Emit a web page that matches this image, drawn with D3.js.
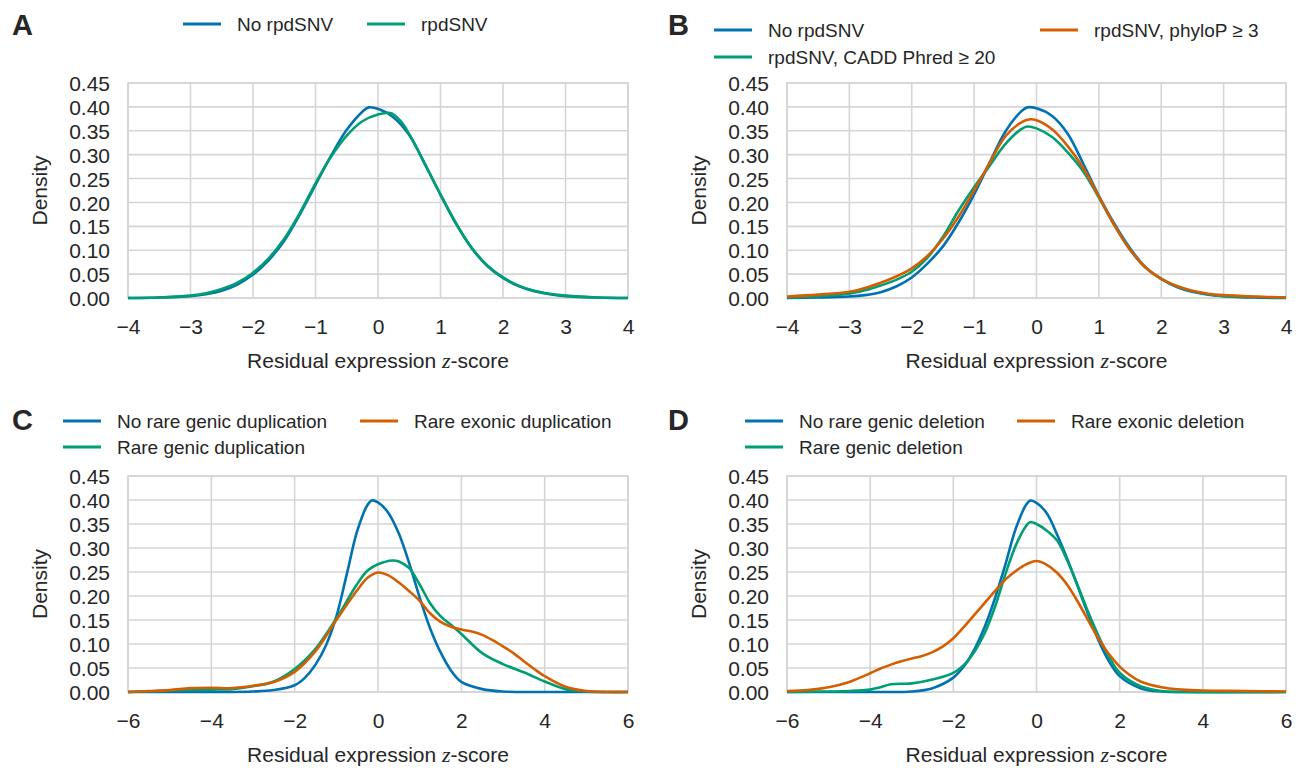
<!DOCTYPE html>
<html>
<head>
<meta charset="utf-8">
<title>Residual expression density</title>
<style>
body {
    margin: 0;
    background-color: #fff;
}
svg text {
    font-family: "Liberation Sans", Arial, sans-serif;
    fill: #262626;
}
</style>
</head>
<body>
<div id="graphic"></div>
<script src="https://cdnjs.cloudflare.com/ajax/libs/d3/7.8.5/d3.min.js"></script>
<script>

// ---- data: [z, density] ----
var xTicksAB = [-4, -3, -2, -1, 0, 1, 2, 3, 4];
var xTicksCD = [-6, -4, -2, 0, 2, 4, 6];
var yTicks = [0, 0.05, 0.10, 0.15, 0.20, 0.25, 0.30, 0.35, 0.40, 0.45];

var labelsA = ["No rpdSNV", "rpdSNV"];
var labelsB = ["No rpdSNV", "rpdSNV, CADD Phred \u2265 20", "rpdSNV, phyloP \u2265 3"];
var labelsC = ["No rare genic duplication", "Rare genic duplication", "Rare exonic duplication"];
var labelsD = ["No rare genic deletion", "Rare genic deletion", "Rare exonic deletion"];

var aNoRpd = [[-4,0],[-3.5,0.001],[-3,0.004],[-2.75,0.008],[-2.5,0.015],[-2.25,0.028],[-2,0.049],[-1.75,0.079],[-1.5,0.120],[-1.25,0.175],[-1,0.237],[-0.75,0.298],[-0.5,0.352],[-0.25,0.390],[-0.15,0.399],[0,0.396],[0.25,0.378],[0.5,0.341],[0.75,0.280],[1,0.216],[1.25,0.155],[1.5,0.104],[1.75,0.067],[2,0.042],[2.25,0.025],[2.5,0.014],[2.75,0.008],[3,0.004],[3.5,0.001],[4,0]];
var aRpd = [[-4,0],[-3.5,0.001],[-3,0.005],[-2.75,0.010],[-2.5,0.019],[-2.25,0.032],[-2,0.053],[-1.75,0.083],[-1.5,0.124],[-1.25,0.178],[-1,0.240],[-0.75,0.296],[-0.5,0.340],[-0.25,0.370],[0,0.384],[0.2,0.387],[0.35,0.372],[0.5,0.343],[0.75,0.281],[1,0.217],[1.25,0.156],[1.5,0.105],[1.75,0.068],[2,0.043],[2.25,0.026],[2.5,0.015],[2.75,0.009],[3,0.005],[3.5,0.001],[4,0]];

var bNoRpd = [[-4,0],[-3.5,0.001],[-3,0.003],[-2.75,0.006],[-2.5,0.012],[-2.25,0.024],[-2,0.043],[-1.75,0.072],[-1.5,0.108],[-1.25,0.158],[-1,0.217],[-0.75,0.284],[-0.5,0.348],[-0.25,0.390],[-0.15,0.399],[0,0.397],[0.25,0.381],[0.5,0.344],[0.75,0.281],[1,0.214],[1.25,0.155],[1.5,0.104],[1.75,0.064],[2,0.040],[2.25,0.023],[2.5,0.013],[2.75,0.007],[3,0.004],[3.5,0.001],[4,0]];
var bCadd = [[-4,0.001],[-3.5,0.004],[-3,0.009],[-2.75,0.016],[-2.5,0.026],[-2.25,0.038],[-2,0.055],[-1.75,0.084],[-1.5,0.128],[-1.25,0.183],[-1,0.232],[-0.75,0.277],[-0.5,0.322],[-0.25,0.353],[-0.15,0.359],[0,0.355],[0.25,0.337],[0.5,0.305],[0.75,0.265],[1,0.210],[1.25,0.152],[1.5,0.101],[1.75,0.063],[2,0.040],[2.25,0.024],[2.5,0.014],[2.75,0.008],[3,0.004],[3.5,0.002],[4,0.001]];
var bPhylo = [[-4,0.003],[-3.5,0.007],[-3,0.013],[-2.75,0.021],[-2.5,0.032],[-2.25,0.045],[-2,0.062],[-1.75,0.088],[-1.5,0.124],[-1.25,0.170],[-1,0.225],[-0.75,0.283],[-0.5,0.338],[-0.25,0.367],[-0.1,0.374],[0,0.372],[0.25,0.353],[0.5,0.318],[0.75,0.272],[1,0.212],[1.25,0.152],[1.5,0.101],[1.75,0.064],[2,0.040],[2.25,0.025],[2.5,0.015],[2.75,0.009],[3,0.006],[3.5,0.003],[4,0.001]];

var cNoDup = [[-6,0],[-4,0],[-3,0.001],[-2.5,0.004],[-2,0.014],[-1.75,0.030],[-1.5,0.057],[-1.25,0.097],[-1,0.157],[-0.75,0.245],[-0.5,0.335],[-0.25,0.390],[-0.15,0.399],[0,0.395],[0.25,0.373],[0.5,0.330],[0.75,0.268],[1,0.197],[1.25,0.133],[1.5,0.083],[1.75,0.045],[2,0.021],[2.5,0.006],[3,0.001],[4,0],[6,0]];
var cGenicDup = [[-6,0],[-5,0.003],[-4.5,0.004],[-4,0.005],[-3.5,0.006],[-3,0.012],[-2.5,0.022],[-2,0.048],[-1.5,0.090],[-1,0.153],[-0.5,0.225],[-0.25,0.253],[0,0.266],[0.35,0.274],[0.5,0.272],[0.75,0.258],[1,0.224],[1.25,0.185],[1.5,0.158],[1.75,0.140],[2,0.121],[2.5,0.081],[3,0.058],[3.5,0.041],[4,0.022],[4.5,0.006],[5,0.001],[5.5,0],[6,0]];
var cExonDup = [[-6,0],[-5.5,0.002],[-5,0.004],[-4.5,0.008],[-4,0.009],[-3.5,0.008],[-3,0.013],[-2.5,0.021],[-2,0.042],[-1.5,0.085],[-1,0.150],[-0.5,0.212],[-0.25,0.238],[0,0.249],[0.25,0.243],[0.5,0.228],[0.75,0.210],[1,0.190],[1.25,0.164],[1.5,0.146],[1.75,0.136],[2,0.130],[2.25,0.126],[2.5,0.119],[2.75,0.108],[3,0.095],[3.25,0.081],[3.5,0.064],[3.75,0.048],[4,0.033],[4.5,0.011],[5,0.002],[5.5,0],[6,0]];

var dNoDel = [[-6,0],[-4,0],[-3,0.001],[-2.5,0.008],[-2,0.030],[-1.75,0.053],[-1.5,0.088],[-1.25,0.135],[-1,0.195],[-0.75,0.265],[-0.5,0.340],[-0.25,0.390],[-0.15,0.399],[0,0.394],[0.25,0.372],[0.5,0.327],[0.75,0.275],[1,0.218],[1.25,0.160],[1.5,0.106],[1.75,0.063],[2,0.033],[2.5,0.008],[3,0.001],[4,0],[6,0]];
var dGenicDel = [[-6,0],[-5,0.001],[-4.5,0.002],[-4,0.005],[-3.75,0.010],[-3.5,0.016],[-3,0.018],[-2.5,0.026],[-2,0.040],[-1.75,0.056],[-1.5,0.083],[-1.25,0.122],[-1,0.177],[-0.75,0.245],[-0.5,0.305],[-0.25,0.346],[-0.15,0.354],[0,0.350],[0.25,0.336],[0.5,0.315],[0.75,0.272],[1,0.220],[1.25,0.165],[1.5,0.115],[1.75,0.072],[2,0.040],[2.5,0.012],[3,0.002],[3.5,0],[6,0]];
var dExonDel = [[-6,0.002],[-5.5,0.004],[-5,0.010],[-4.5,0.021],[-4,0.039],[-3.75,0.049],[-3.5,0.057],[-3.25,0.064],[-3,0.070],[-2.75,0.075],[-2.5,0.083],[-2.25,0.095],[-2,0.112],[-1.75,0.135],[-1.5,0.160],[-1.25,0.185],[-1,0.210],[-0.75,0.234],[-0.5,0.252],[-0.25,0.266],[0,0.273],[0.25,0.265],[0.5,0.248],[0.75,0.222],[1,0.187],[1.25,0.148],[1.5,0.110],[1.75,0.078],[2,0.053],[2.25,0.035],[2.5,0.022],[3,0.010],[3.5,0.005],[4,0.003],[5,0.002],[6,0.001]];

var blue = "#0072b2", green = "#009e73", orange = "#d55e00";

// ---- layout ----
var w = 1305, h = 768;

var svg = d3.select("#graphic")
    .append("svg")
    .attr("width", w)
    .attr("height", h);

var panels = [
    { letter: "A", lx: 12, ly: 35, x0: 128, x1: 628, y0: 83, y1: 298,
      xDomain: [-4, 4], xTicks: xTicksAB,
      series: [aNoRpd, aRpd], colors: [blue, green], labels: labelsA,
      legend: [[183, 24], [367, 24]] },
    { letter: "B", lx: 668, ly: 35, x0: 787, x1: 1286, y0: 83, y1: 298,
      xDomain: [-4, 4], xTicks: xTicksAB,
      series: [bNoRpd, bCadd, bPhylo], colors: [blue, green, orange], labels: labelsB,
      legend: [[714, 30], [714, 57], [1040, 30]] },
    { letter: "C", lx: 12, ly: 430, x0: 128, x1: 628, y0: 476, y1: 692,
      xDomain: [-6, 6], xTicks: xTicksCD,
      series: [cNoDup, cGenicDup, cExonDup], colors: [blue, green, orange], labels: labelsC,
      legend: [[63, 421], [63, 447], [360, 421]] },
    { letter: "D", lx: 668, ly: 430, x0: 787, x1: 1286, y0: 476, y1: 692,
      xDomain: [-6, 6], xTicks: xTicksCD,
      series: [dNoDel, dGenicDel, dExonDel], colors: [blue, green, orange], labels: labelsD,
      legend: [[745, 421], [745, 447], [1017, 421]] }
];

var gridColor = "#d5d5d5";

panels.forEach(function(p) {

    var x = d3.scaleLinear().domain(p.xDomain).range([p.x0, p.x1]);
    var y = d3.scaleLinear().domain([0, 0.45]).range([p.y1, p.y0]);

    var g = svg.append("g");

    // grid
    g.append("g")
        .selectAll("line.v")
        .data(p.xTicks)
        .enter().append("line")
        .attr("x1", function(d) { return x(d); })
        .attr("x2", function(d) { return x(d); })
        .attr("y1", p.y0)
        .attr("y2", p.y1)
        .attr("stroke", gridColor)
        .attr("stroke-width", 1.6);

    g.append("g")
        .selectAll("line.h")
        .data(yTicks)
        .enter().append("line")
        .attr("x1", p.x0)
        .attr("x2", p.x1)
        .attr("y1", function(d) { return y(d); })
        .attr("y2", function(d) { return y(d); })
        .attr("stroke", gridColor)
        .attr("stroke-width", 1.6);

    g.append("rect")
        .attr("x", p.x0)
        .attr("y", p.y0)
        .attr("width", p.x1 - p.x0)
        .attr("height", p.y1 - p.y0)
        .attr("fill", "none")
        .attr("stroke", gridColor)
        .attr("stroke-width", 1.6);

    // axes (labels only, seaborn style)
    var xAxis = d3.axisBottom(x).tickValues(p.xTicks).tickSize(0).tickPadding(0)
        .tickFormat(d3.format("d"));
    g.append("g")
        .attr("transform", "translate(0," + (p.y1 + 36) + ")")
        .call(xAxis)
        .call(function(s) { s.select(".domain").remove(); })
        .selectAll("text")
        .attr("dy", 0)
        .style("font-size", "21px")
        .style("font-family", "Liberation Sans, Arial, sans-serif")
        .attr("fill", "#262626");

    var yAxis = d3.axisLeft(y).tickValues(yTicks).tickSize(0).tickPadding(18)
        .tickFormat(d3.format(".2f"));
    g.append("g")
        .attr("transform", "translate(" + p.x0 + ",0)")
        .call(yAxis)
        .call(function(s) { s.select(".domain").remove(); })
        .selectAll("text")
        .attr("dy", "0.36em")
        .style("font-size", "21px")
        .style("font-family", "Liberation Sans, Arial, sans-serif")
        .attr("fill", "#262626");

    // axis titles
    var xt = g.append("text")
        .attr("x", (p.x0 + p.x1) / 2)
        .attr("y", p.y1 + 70)
        .attr("text-anchor", "middle")
        .style("font-size", "21px");
    xt.append("tspan").text("Residual expression ");
    xt.append("tspan")
        .style("font-family", "Liberation Serif, DejaVu Serif, serif")
        .style("font-style", "italic")
        .style("font-size", "22px")
        .text("z");
    xt.append("tspan").text("-score");

    g.append("text")
        .attr("transform", "translate(" + (p.x0 - 81) + "," + ((p.y0 + p.y1) / 2) + ") rotate(-90)")
        .attr("text-anchor", "middle")
        .style("font-size", "21px")
        .text("Density");

    // curves
    var line = d3.line()
        .x(function(d) { return x(d[0]); })
        .y(function(d) { return y(d[1]); })
        .curve(d3.curveCatmullRom.alpha(0.5));

    g.append("g")
        .selectAll("path")
        .data(p.series)
        .enter().append("path")
        .attr("d", line)
        .attr("fill", "none")
        .attr("stroke", function(d, i) { return p.colors[i]; })
        .attr("stroke-width", 2.6)
        .attr("stroke-linejoin", "round");

    // legend
    var leg = g.append("g")
        .selectAll("g")
        .data(p.labels)
        .enter().append("g")
        .attr("transform", function(d, i) {
            return "translate(" + p.legend[i][0] + "," + p.legend[i][1] + ")";
        });
    leg.append("line")
        .attr("x1", 0)
        .attr("x2", 38)
        .attr("stroke", function(d, i) { return p.colors[i]; })
        .attr("stroke-width", 3);
    leg.append("text")
        .attr("x", 54)
        .attr("dy", "0.35em")
        .style("font-size", "19px")
        .text(function(d) { return d; });

    // panel letter
    svg.append("text")
        .attr("x", p.lx)
        .attr("y", p.ly)
        .style("font-size", "29px")
        .style("font-weight", "bold")
        .attr("fill", "#222")
        .text(p.letter);
});

</script>
</body>
</html>
